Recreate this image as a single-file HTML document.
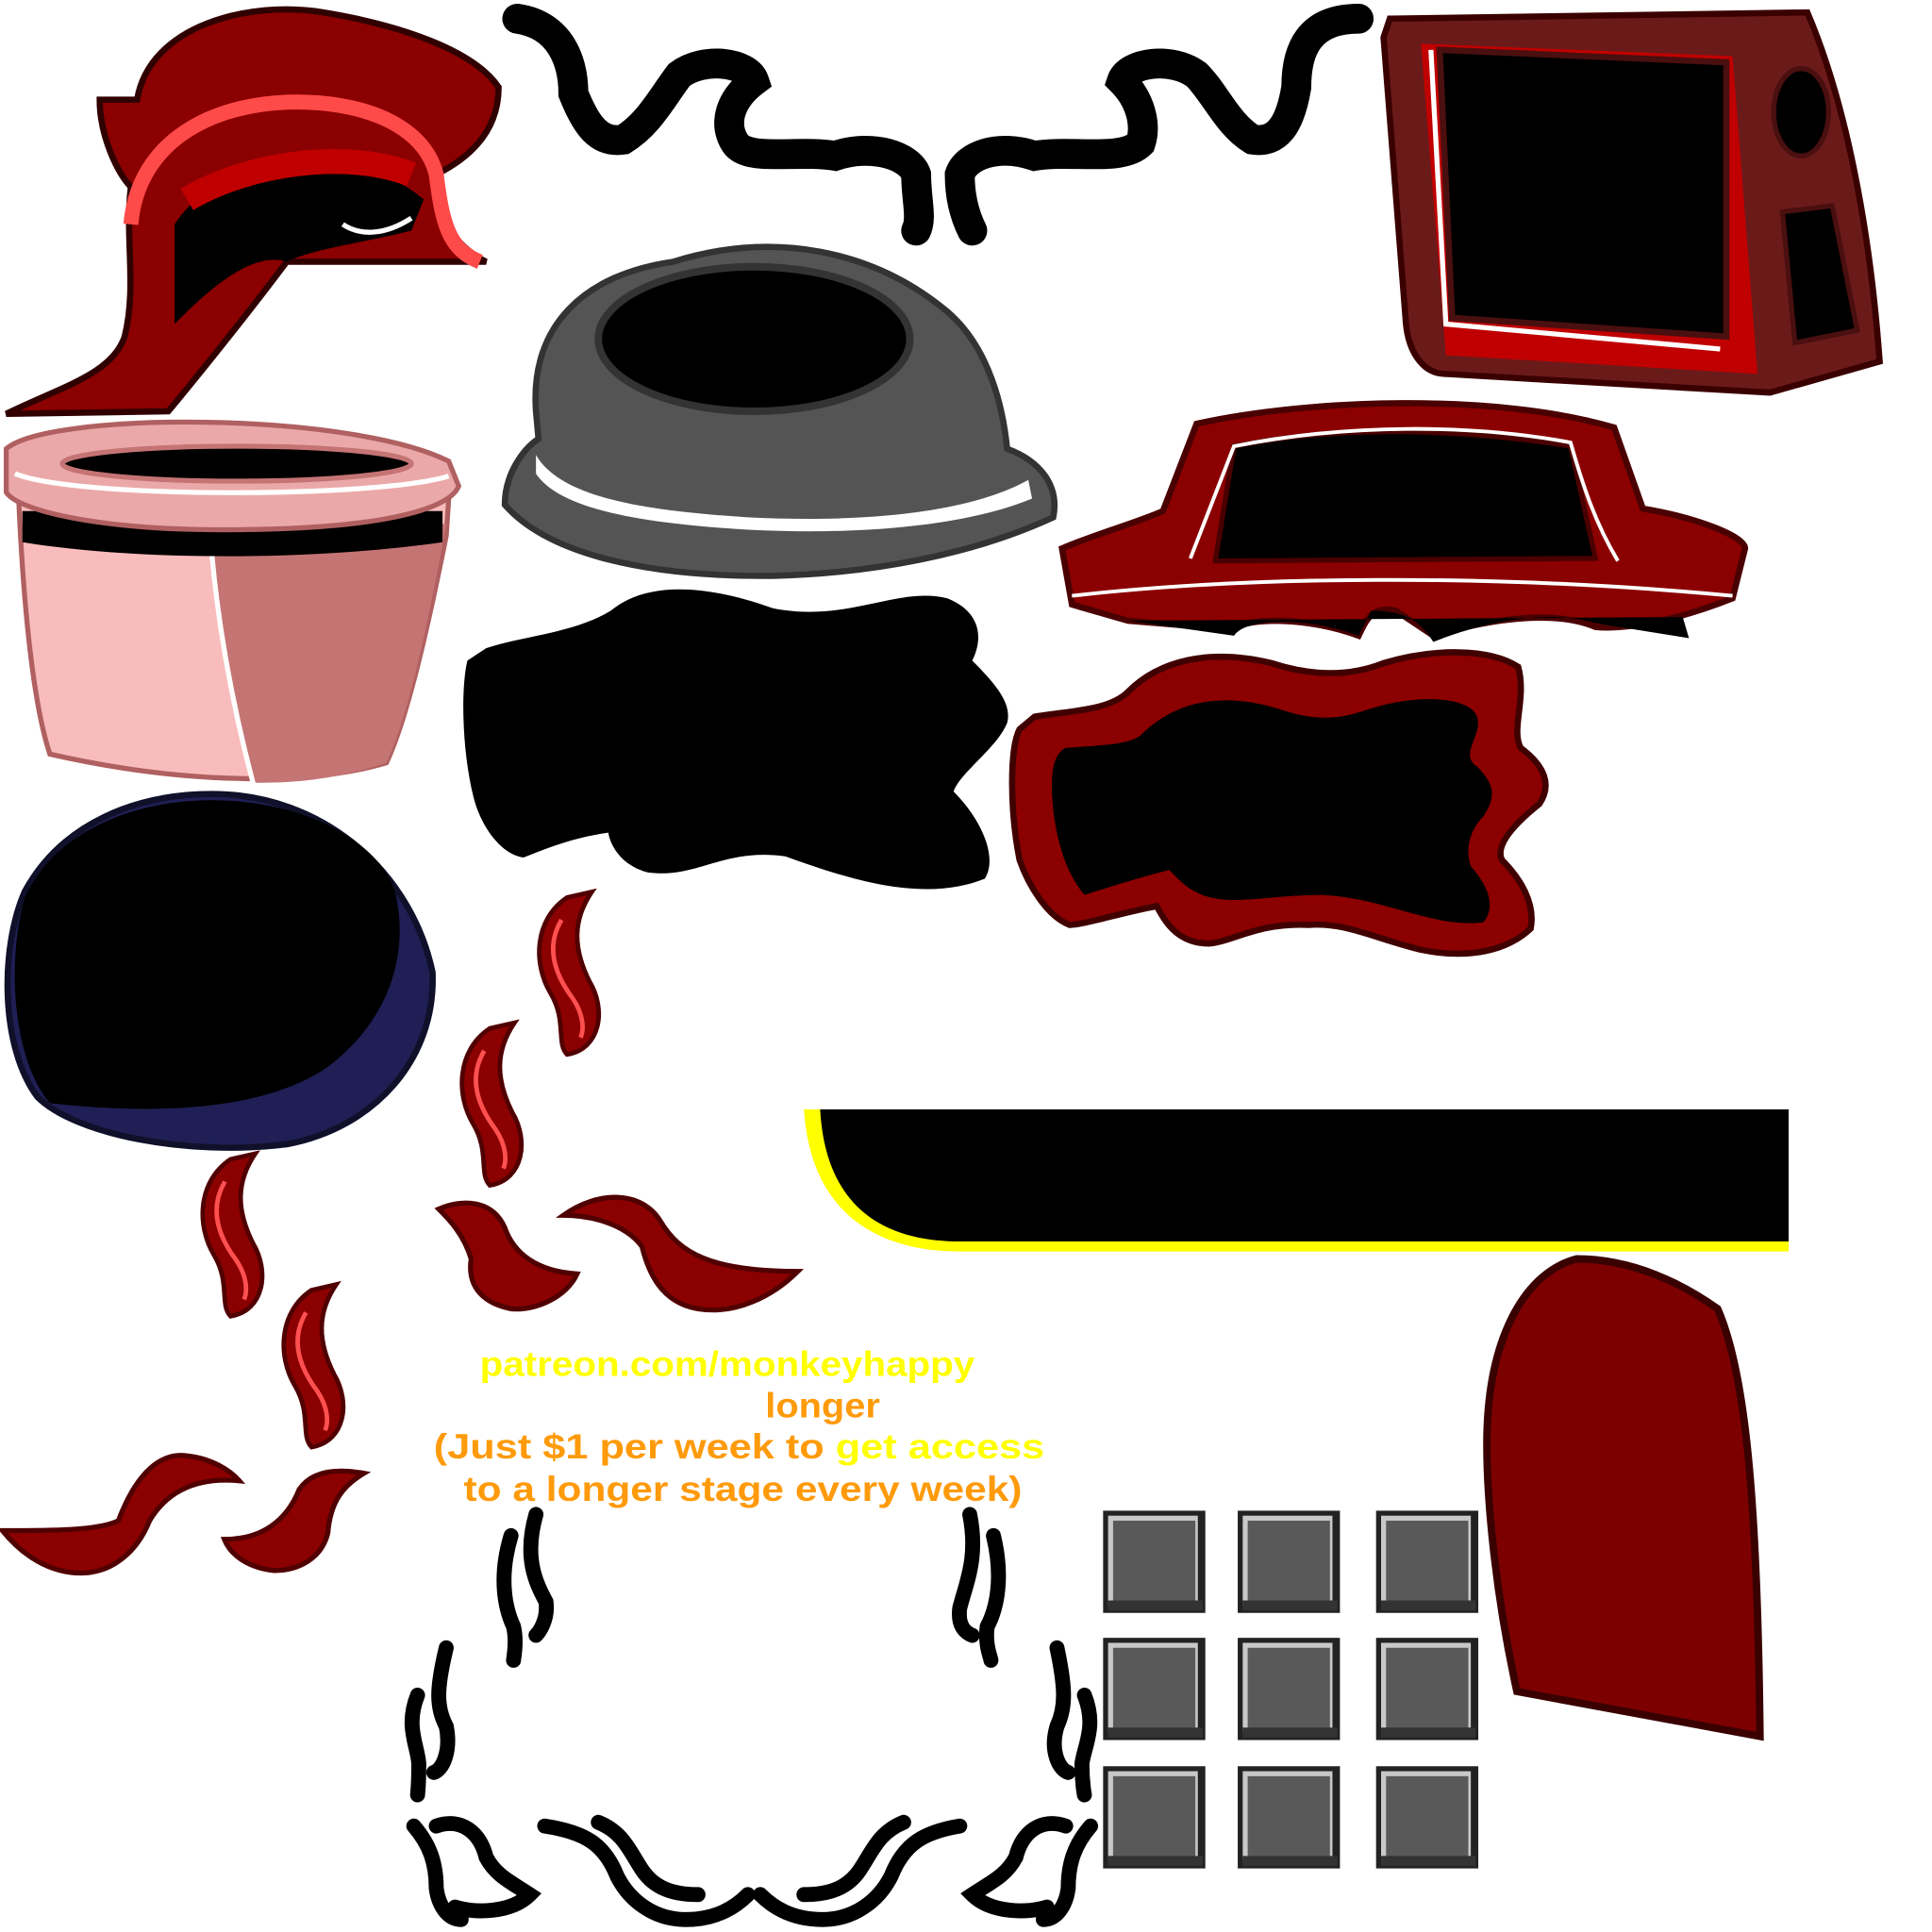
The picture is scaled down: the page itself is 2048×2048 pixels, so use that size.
<!DOCTYPE html>
<html><head><meta charset="utf-8"><style>html,body{margin:0;padding:0;background:#fff}svg{display:block}</style></head>
<body>
<svg width="2048" height="2048" viewBox="0 0 1550 1550" xmlns="http://www.w3.org/2000/svg">
<defs>
<g id="flame"><path d="M0 0 C-30 20 -30 60 -15 85 C0 110 -10 130 0 140 C30 135 35 100 20 75 C5 45 5 20 22 -5 Z" fill="#8b0000" stroke="#500000" stroke-width="4"/><path d="M-5 20 C-20 45 -10 70 5 90 C15 105 15 118 12 125" fill="none" stroke="#ff5050" stroke-width="4"/></g>
<g id="sq"><rect x="0" y="0" width="82" height="82" fill="#222"/><rect x="4" y="4" width="72" height="72" fill="#c8c8c8"/><rect x="8" y="8" width="66" height="66" fill="#595959"/><rect x="4" y="72" width="76" height="8" fill="#333"/></g>
</defs>
<path d="M110 80 C120 20 200 0 260 10 C320 20 380 40 400 70 C400 110 370 130 350 140 C350 180 370 200 390 210 L230 210 C200 250 160 300 135 330 L5 332 C50 310 90 300 100 270 C110 230 100 190 105 150 C95 140 80 110 80 80 Z" fill="#8b0000" stroke="#300000" stroke-width="5"/>
<path d="M105 180 C110 120 160 85 230 82 C290 80 340 100 350 140 C355 180 360 200 385 210" fill="none" stroke="#ff4a4a" stroke-width="12"/>
<path d="M140 180 C180 120 280 110 340 160 L330 185 C290 195 250 200 230 210 C200 200 160 240 140 260 Z" fill="#000"/>
<path d="M150 160 C200 130 280 120 330 140" fill="none" stroke="#c00000" stroke-width="20"/>
<path d="M275 180 C290 190 310 188 330 175" fill="none" stroke="#fff" stroke-width="4"/>
<g fill="none" stroke="#000" stroke-width="24" stroke-linecap="round">
<path d="M415 15 C450 20 460 50 460 75 C470 100 480 115 500 112 C520 100 530 80 545 60 C565 45 600 50 605 65 C585 80 580 100 590 115 C600 130 640 120 670 125 C700 115 730 125 735 140 C735 160 740 175 735 185"/>
<path d="M1090 15 C1050 15 1040 40 1040 70 C1035 100 1025 115 1005 112 C985 100 975 75 960 60 C940 45 905 50 900 65 C915 80 920 100 915 115 C900 130 860 120 830 125 C800 115 775 125 770 140 C770 160 775 175 780 185"/>
</g>
<path d="M1115 15 L1450 10 C1480 80 1500 180 1508 290 L1420 315 L1160 300 C1140 300 1130 280 1128 260 L1110 30 Z" fill="#6b1a1a" stroke="#3a0000" stroke-width="5"/>
<path d="M1140 35 L1390 45 L1410 300 L1160 285 Z" fill="#c00000"/>
<path d="M1155 40 L1385 50 L1385 270 L1165 255 Z" fill="#000" stroke="#4a0f0f" stroke-width="5"/>
<path d="M1148 40 L1160 260 L1380 280" fill="none" stroke="#fff" stroke-width="4"/>
<ellipse cx="1445" cy="90" rx="22" ry="35" fill="#000" stroke="#4a0f0f" stroke-width="4"/>
<path d="M1430 170 L1470 165 L1490 265 L1440 275 Z" fill="#000" stroke="#4a0f0f" stroke-width="4"/>
<path d="M430 330 C425 260 470 220 540 210 C620 185 700 200 760 250 C795 280 805 330 808 360 C835 370 850 390 845 415 C780 445 700 460 620 462 C520 463 440 445 405 405 C405 380 420 360 432 352 Z" fill="#545454" stroke="#333" stroke-width="5"/>
<ellipse cx="605" cy="272" rx="125" ry="58" fill="#000" stroke="#333" stroke-width="6"/>
<path d="M430 365 C450 400 520 410 600 415 C700 420 780 410 825 385 L828 400 C780 420 700 430 600 425 C520 420 450 410 430 380 Z" fill="#fff"/>
<path d="M15 400 L360 400 L358 430 C340 520 325 580 310 612 C250 630 150 630 40 605 C25 560 18 470 15 400 Z" fill="#f9bcbc" stroke="#b06060" stroke-width="4"/>
<path d="M170 440 L358 420 C340 520 325 580 310 612 C270 625 240 628 205 628 C185 560 175 500 170 440 Z" fill="#c57474"/>
<path d="M170 445 C175 500 185 560 203 628" fill="none" stroke="#fff" stroke-width="4"/>
<path d="M18 410 L355 410 L355 435 C250 450 110 450 18 435 Z" fill="#000"/>
<path d="M5 360 C40 330 280 330 360 370 L368 390 C360 410 300 425 180 425 C80 425 15 410 5 395 Z" fill="#eba8a8" stroke="#b06060" stroke-width="4"/>
<ellipse cx="190" cy="372" rx="140" ry="14" fill="#000" stroke="#c57474" stroke-width="4"/>
<path d="M12 380 C60 400 300 400 360 382" fill="none" stroke="#fff" stroke-width="4"/>
<path d="M960 340 C1050 320 1200 315 1295 343 L1318 408 C1360 415 1400 430 1400 440 L1390 480 C1340 500 1300 505 1280 503 C1250 490 1200 495 1150 510 L1120 490 C1100 485 1095 500 1090 510 C1050 495 1000 495 990 505 L905 498 L860 485 L852 440 C880 428 910 420 933 410 Z" fill="#8b0000" stroke="#4a0000" stroke-width="5"/>
<path d="M990 358 C1080 340 1180 345 1260 358 L1280 448 L975 450 Z" fill="#000" stroke="#4a0000" stroke-width="4"/>
<path d="M955 448 L990 358 C1080 340 1180 340 1260 355 C1270 390 1280 420 1298 450" fill="none" stroke="#fff" stroke-width="3"/>
<path d="M860 478 C1000 462 1200 460 1390 478" fill="none" stroke="#fff" stroke-width="3"/>
<path d="M905 498 L1350 495 L1355 512 L1280 500 C1250 490 1200 495 1150 515 C1140 500 1130 490 1100 490 L1090 510 C1050 495 1000 495 990 510 Z" fill="#000"/>
<path d="M390 520 C420 510 460 508 490 490 C520 465 570 470 620 488 C680 500 720 470 760 480 C785 490 790 510 780 530 C800 550 812 565 808 580 C800 600 770 620 765 635 C790 660 800 690 790 705 C740 725 680 705 630 687 C580 680 560 705 520 700 C500 695 490 680 488 668 C460 672 440 680 420 688 C400 685 385 660 380 640 C370 600 370 550 375 530 Z" fill="#000"/>
<path d="M830 575 C860 570 890 570 905 555 C930 530 970 520 1020 532 C1060 545 1090 540 1110 532 C1150 520 1195 520 1218 535 C1225 560 1212 585 1220 600 C1240 615 1245 630 1235 645 C1210 665 1200 680 1205 690 C1220 705 1232 725 1228 745 C1210 762 1180 770 1140 762 C1100 752 1080 740 1050 742 C1010 740 990 755 970 757 C945 757 935 740 928 727 C900 732 870 742 858 742 C840 735 825 710 818 690 C810 650 810 600 818 585 Z" fill="#8b0000" stroke="#400000" stroke-width="5"/>
<path d="M855 600 C880 598 905 598 915 590 C945 560 985 555 1030 570 C1060 580 1080 575 1095 570 C1140 555 1180 560 1185 575 C1190 590 1170 605 1185 615 C1200 630 1200 640 1190 655 C1180 665 1175 680 1180 695 C1195 712 1200 728 1190 740 C1150 745 1110 720 1060 718 C1030 718 1010 722 990 722 C960 722 950 710 938 698 C910 705 880 715 870 718 C855 700 848 675 845 650 C842 620 845 605 855 600 Z" fill="#000"/>
<path d="M170 637 C260 637 330 700 347 780 C350 850 300 905 230 918 C150 928 60 910 30 880 C0 840 0 760 20 715 C50 660 110 637 170 637 Z" fill="#1f1f55" stroke="#10102a" stroke-width="5"/>
<path d="M170 642 C250 642 310 680 318 720 C330 780 300 830 260 858 C210 890 130 895 40 885 C10 850 5 770 20 720 C45 665 110 642 170 642 Z" fill="#000"/>
<use href="#flame" transform="translate(455,720) scale(0.9)"/>
<use href="#flame" transform="translate(393,825) scale(0.9)"/>
<use href="#flame" transform="translate(185,930) scale(0.9)"/>
<use href="#flame" transform="translate(250,1035) scale(0.9)"/>
<path d="M352 970 C370 962 395 962 405 985 C412 1005 430 1020 463 1022 C455 1040 430 1052 410 1050 C385 1045 375 1030 378 1010 C372 990 360 978 352 970 Z" fill="#8b0000" stroke="#500000" stroke-width="4"/>
<path d="M452 975 C480 955 515 955 530 980 C545 1005 570 1020 640 1020 C620 1040 590 1055 560 1050 C530 1045 520 1020 515 1000 C500 980 470 975 452 975 Z" fill="#8b0000" stroke="#500000" stroke-width="4"/>
<path d="M2 1228 C40 1228 80 1228 95 1220 C110 1180 130 1165 150 1168 C170 1170 185 1180 192 1188 C160 1185 135 1195 120 1220 C110 1245 90 1262 65 1262 C40 1262 18 1248 2 1228 Z" fill="#8b0000" stroke="#500000" stroke-width="4"/>
<path d="M180 1235 C210 1235 230 1220 240 1195 C250 1180 270 1178 292 1182 C275 1192 265 1205 263 1230 C258 1250 240 1260 220 1260 C200 1258 185 1248 180 1235 Z" fill="#8b0000" stroke="#500000" stroke-width="4"/>
<path d="M645 890 L1435 890 L1435 1004 L770 1004 C700 1004 650 970 645 890 Z" fill="#ffff00"/>
<path d="M658 890 L1435 890 L1435 996 L770 996 C705 996 662 965 658 890 Z" fill="#000"/>
<path d="M1265 1010 C1310 1010 1350 1030 1378 1050 C1400 1100 1410 1200 1412 1393 L1217 1357 C1200 1280 1192 1200 1193 1150 C1195 1070 1225 1020 1265 1010 Z" fill="#7d0000" stroke="#3a0000" stroke-width="6"/>
<use href="#sq" transform="translate(885,1212)"/><use href="#sq" transform="translate(993,1212)"/><use href="#sq" transform="translate(1104,1212)"/>
<use href="#sq" transform="translate(885,1314)"/><use href="#sq" transform="translate(993,1314)"/><use href="#sq" transform="translate(1104,1314)"/>
<use href="#sq" transform="translate(885,1417)"/><use href="#sq" transform="translate(993,1417)"/><use href="#sq" transform="translate(1104,1417)"/>
<g font-family="'Liberation Sans', Arial, sans-serif" font-weight="bold" font-size="28">
<text x="385" y="1104" fill="#ffff00" textLength="397" lengthAdjust="spacingAndGlyphs">patreon.com/monkeyhappy</text>
<text x="614" y="1137" fill="#ff9a0a" textLength="92" lengthAdjust="spacingAndGlyphs">longer</text>
<text x="348" y="1170" fill="#ff9a0a" textLength="490" lengthAdjust="spacingAndGlyphs">(Just $1 per week to <tspan fill="#ffff00">get access</tspan></text>
<text x="372" y="1204" fill="#ff9a0a" textLength="448" lengthAdjust="spacingAndGlyphs">to a longer stage every week)</text>
</g>
<g fill="none" stroke="#000" stroke-width="12" stroke-linecap="round">
<path d="M430 1215 C420 1250 430 1270 438 1285 C440 1300 432 1310 430 1312"/>
<path d="M410 1232 C400 1265 405 1290 412 1305 C415 1318 412 1330 412 1332"/>
<path d="M778 1215 C785 1250 775 1270 770 1290 C768 1305 775 1310 780 1312"/>
<path d="M797 1232 C805 1265 800 1290 792 1305 C790 1320 795 1330 795 1332"/>
<path d="M358 1322 C350 1355 350 1370 358 1385 C362 1405 355 1420 348 1422"/>
<path d="M335 1360 C325 1385 335 1400 336 1415 C336 1430 335 1440 335 1440"/>
<path d="M848 1322 C855 1355 855 1370 848 1385 C842 1405 850 1420 857 1422"/>
<path d="M870 1360 C880 1385 870 1400 868 1415 C868 1430 870 1440 870 1440"/>
<path d="M350 1465 C370 1458 385 1470 390 1490 C398 1505 410 1510 425 1520 C410 1535 380 1535 365 1530"/>
<path d="M332 1465 C345 1480 350 1495 350 1515 C352 1530 360 1540 370 1540"/>
<path d="M437 1465 C470 1470 485 1480 495 1505 C505 1525 525 1540 550 1540 C575 1540 590 1530 600 1520"/>
<path d="M480 1462 C500 1470 505 1485 515 1500 C525 1515 540 1520 560 1520"/>
<path d="M770 1465 C740 1470 725 1480 715 1505 C705 1525 685 1540 660 1540 C635 1540 620 1530 610 1520"/>
<path d="M725 1462 C705 1470 700 1485 690 1500 C680 1515 665 1520 645 1520"/>
<path d="M855 1465 C835 1458 820 1470 815 1490 C807 1505 795 1510 780 1520 C795 1535 825 1535 840 1530"/>
<path d="M875 1465 C862 1480 857 1495 857 1515 C855 1530 847 1540 837 1540"/>
</g>
</svg>
</body></html>
